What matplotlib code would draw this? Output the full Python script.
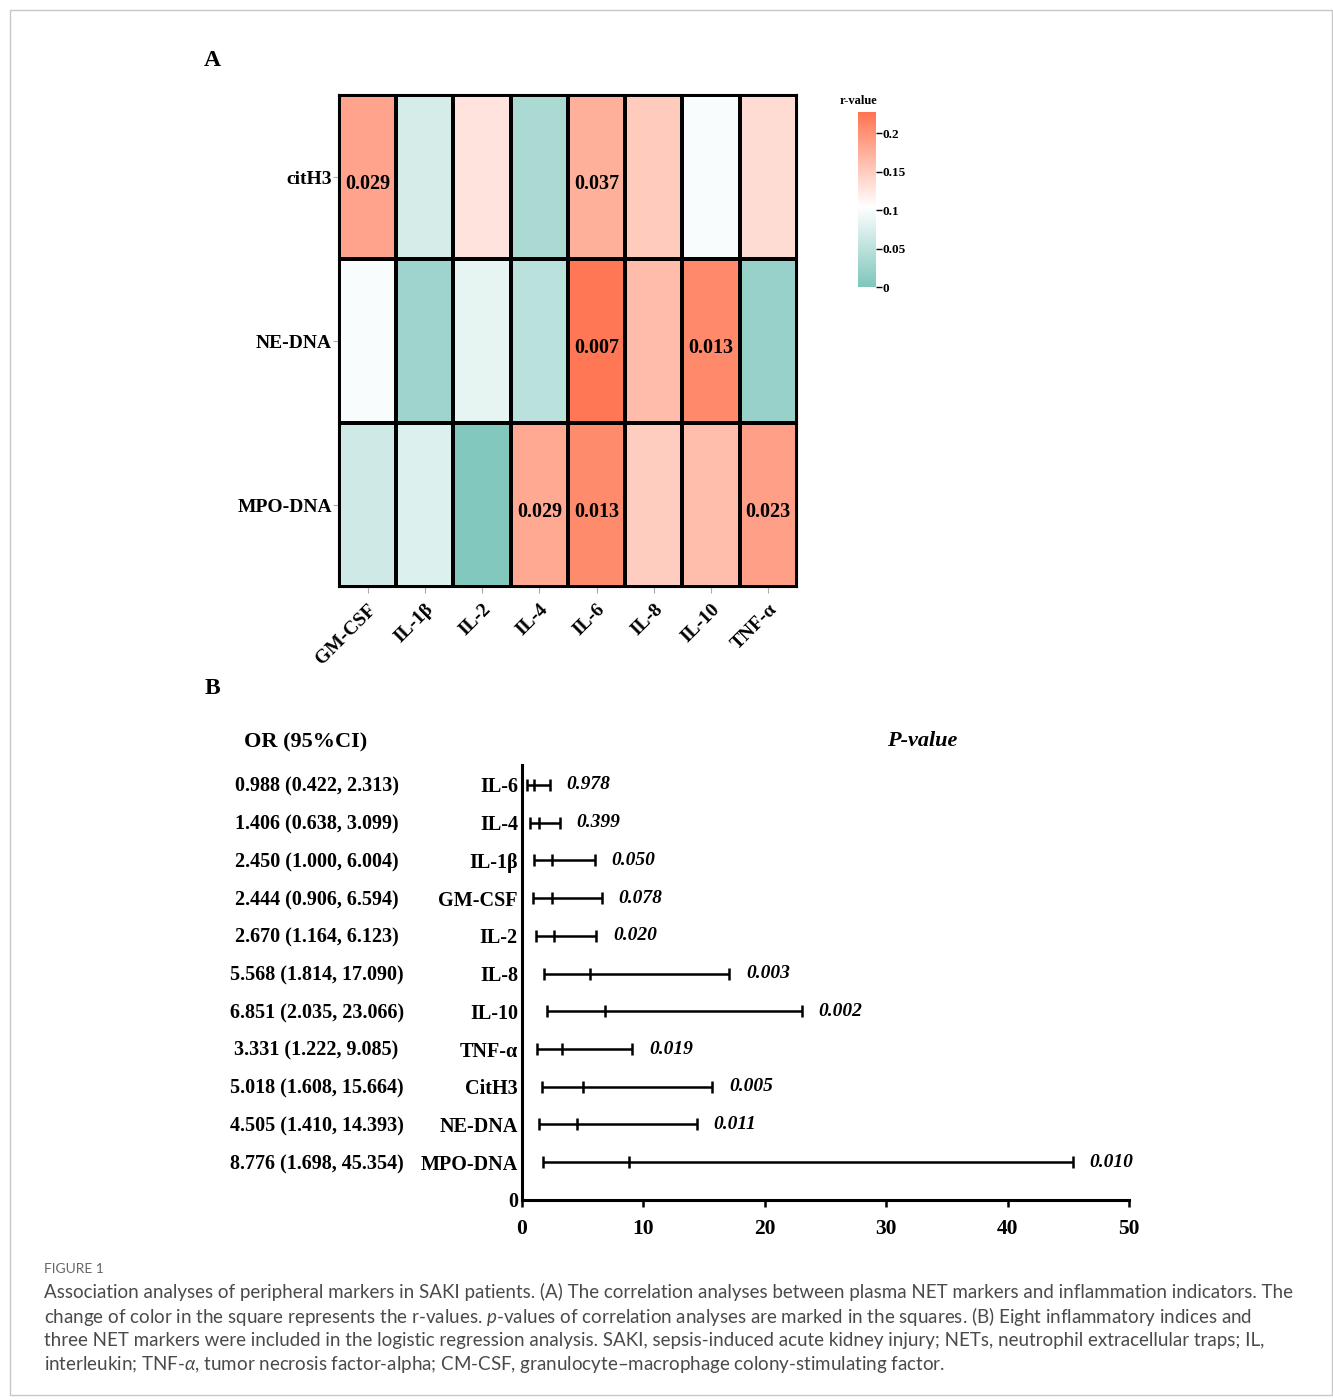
import matplotlib
matplotlib.use('Agg')
import matplotlib.pyplot as plt
import numpy as np
from matplotlib.colors import LinearSegmentedColormap
from matplotlib.patches import Rectangle
from matplotlib.transforms import blended_transform_factory

plt.rcParams['font.family'] = ['Liberation Serif', 'DejaVu Serif']
plt.rcParams['font.weight'] = 'bold'
plt.rcParams['mathtext.fontset'] = 'custom'
plt.rcParams['mathtext.it'] = 'Lato:italic:normal'
plt.rcParams['mathtext.rm'] = 'Lato:normal'

# panel A: correlation of NET markers with inflammation indicators
heat_rows = ['citH3', 'NE-DNA', 'MPO-DNA']
heat_cols = ['GM-CSF', 'IL-1β', 'IL-2', 'IL-4', 'IL-6', 'IL-8', 'IL-10', 'TNF-α']
r_values = [[0.186, 0.071, 0.130, 0.037, 0.175, 0.151, 0.100, 0.136],
            [0.100, 0.026, 0.085, 0.049, 0.225, 0.164, 0.209, 0.021],
            [0.066, 0.077, 0.005, 0.181, 0.207, 0.149, 0.163, 0.189]]
p_marks = [['0.029', '', '', '', '0.037', '', '', ''],
           ['', '', '', '', '0.007', '', '0.013', ''],
           ['', '', '', '0.029', '0.013', '', '', '0.023']]
cbar_ticks = [0, 0.05, 0.1, 0.15, 0.2]

# panel B: logistic regression
forest_labels = ['IL-6', 'IL-4', 'IL-1β', 'GM-CSF', 'IL-2', 'IL-8', 'IL-10',
                 'TNF-α', 'CitH3', 'NE-DNA', 'MPO-DNA']
or_vals = [0.988, 1.406, 2.450, 2.444, 2.670, 5.568, 6.851, 3.331, 5.018, 4.505, 8.776]
ci_low = [0.422, 0.638, 1.000, 0.906, 1.164, 1.814, 2.035, 1.222, 1.608, 1.410, 1.698]
ci_high = [2.313, 3.099, 6.004, 6.594, 6.123, 17.090, 23.066, 9.085, 15.664, 14.393, 45.354]
p_vals = ['0.978', '0.399', '0.050', '0.078', '0.020', '0.003', '0.002',
          '0.019', '0.005', '0.011', '0.010']

caption_lines = [
    "Association analyses of peripheral markers in SAKI patients. (A) The correlation analyses between plasma NET markers and inflammation indicators. The",
    "change of color in the square represents the r-values. $\\it{p}$-values of correlation analyses are marked in the squares. (B) Eight inflammatory indices and",
    "three NET markers were included in the logistic regression analysis. SAKI, sepsis-induced acute kidney injury; NETs, neutrophil extracellular traps; IL,",
    "interleukin; TNF-$\\alpha$, tumor necrosis factor-alpha; CM-CSF, granulocyte\u2013macrophage colony-stimulating factor.",
]

fig = plt.figure(figsize=(13.33, 14), dpi=100)
fig.patches.append(Rectangle((0.0075, 0.0036), 0.9917, 0.9893, transform=fig.transFigure,
                             fill=False, edgecolor='#c8c8c8', linewidth=1))

vmax = 0.228
cmap = LinearSegmentedColormap.from_list(
    'rval', [(0, '#7ec6bc'), (0.105 / vmax, '#ffffff'), (1, '#ff7450')])

ax = fig.add_axes([0.2543, 0.5807, 0.3436, 0.3514])
data = np.array(r_values)
mesh = ax.pcolormesh(np.arange(len(heat_cols) + 1), np.arange(len(heat_rows) + 1), data,
                     cmap=cmap, vmin=0, vmax=vmax, edgecolors='black', linewidth=1.5)
ax.set_xlim(0, len(heat_cols))
ax.set_ylim(len(heat_rows), 0)
for i in range(len(heat_rows)):
    for j in range(len(heat_cols)):
        if p_marks[i][j]:
            ax.text(j + 0.5, i + 0.54, p_marks[i][j], ha='center', va='center',
                    fontsize=14.5, fontweight='bold')
ax.set_xticks(np.arange(len(heat_cols)) + 0.5)
ax.set_xticklabels(heat_cols, rotation=45, ha='right', va='top', rotation_mode='anchor',
                   fontsize=14, fontweight='bold')
ax.set_yticks(np.arange(len(heat_rows)) + 0.5)
ax.set_yticklabels(heat_rows, fontsize=14, fontweight='bold')
ax.tick_params(axis='both', length=4, color='#aaaaaa', width=0.8, pad=1)
ax.tick_params(axis='x', pad=6)
for s in ax.spines.values():
    s.set_linewidth(1.5)

cax = fig.add_axes([0.6437, 0.795, 0.0135, 0.125])
cb = fig.colorbar(mesh, cax=cax, ticks=cbar_ticks)
cb.outline.set_visible(False)
cb.ax.set_yticklabels([str(t) for t in cbar_ticks])
cb.ax.tick_params(length=4, width=1, pad=0.5, labelsize=9.5)
for lab in cb.ax.get_yticklabels():
    lab.set_fontweight('bold')
cax.text(0.0, 1.03, 'r-value', transform=cax.transAxes, fontsize=9, fontweight='bold',
         ha='center', va='bottom')

fig.text(0.159, 0.957, 'A', fontsize=17, fontweight='bold', ha='center', va='center')
fig.text(0.159, 0.508, 'B', fontsize=17, fontweight='bold', ha='center', va='center')

# forest plot
bx = fig.add_axes([0.3916, 0.1429, 0.4554, 0.3107])
n = len(forest_labels)
ypos = np.arange(n, 0, -1)
or_arr = np.array(or_vals)
err = [or_arr - np.array(ci_low), np.array(ci_high) - or_arr]
bx.errorbar(or_arr, ypos, xerr=err, fmt='|', color='black', markersize=8.6,
            markeredgewidth=1.8, elinewidth=1.8, capsize=4.3, capthick=1.8)
bx.set_xlim(0, 50)
bx.set_ylim(0, 11.53)
bx.set_xticks([0, 10, 20, 30, 40, 50])
bx.set_yticks([0] + list(ypos))
bx.set_yticklabels(['0'] + forest_labels, fontsize=14.5, fontweight='bold')
for lab in bx.get_xticklabels():
    lab.set_fontweight('bold')
bx.tick_params(axis='x', length=5, width=1.8, labelsize=15.5, pad=9)
bx.tick_params(axis='y', length=0, pad=3)
bx.spines['top'].set_visible(False)
bx.spines['right'].set_visible(False)
bx.spines['left'].set_linewidth(2.2)
bx.spines['bottom'].set_linewidth(2.2)

for y, hi, p in zip(ypos, ci_high, p_vals):
    bx.annotate(p, (hi, y), xytext=(12, 0), textcoords='offset points', ha='left',
                va='center', fontsize=14, fontweight='bold', style='italic')

tr = blended_transform_factory(fig.transFigure, bx.transData)
for y, o, lo, hi in zip(ypos, or_vals, ci_low, ci_high):
    bx.text(0.2375, y - 0.05, f'{o:.3f} ({lo:.3f}, {hi:.3f})', transform=tr, ha='center',
            va='center', fontsize=14.5, fontweight='bold')
fig.text(0.2295, 0.47, 'OR (95%CI)', fontsize=16, fontweight='bold', ha='center', va='center')
fig.text(0.692, 0.4707, 'P-value', fontsize=16, fontweight='bold', style='italic',
         ha='center', va='center')

cap_font = ['Lato', 'DejaVu Sans']
fig.text(0.033, 0.0936, 'FIGURE 1', fontsize=10, color='#666666', family=cap_font,
         fontweight='normal', va='center')
for k, line in enumerate(caption_lines):
    fig.text(0.033, 0.0771 - k * 0.01714, line, fontsize=13.5, color='#4a4a4a',
             family=cap_font, fontweight='normal', va='center')

fig.savefig('out.png', dpi=100)
